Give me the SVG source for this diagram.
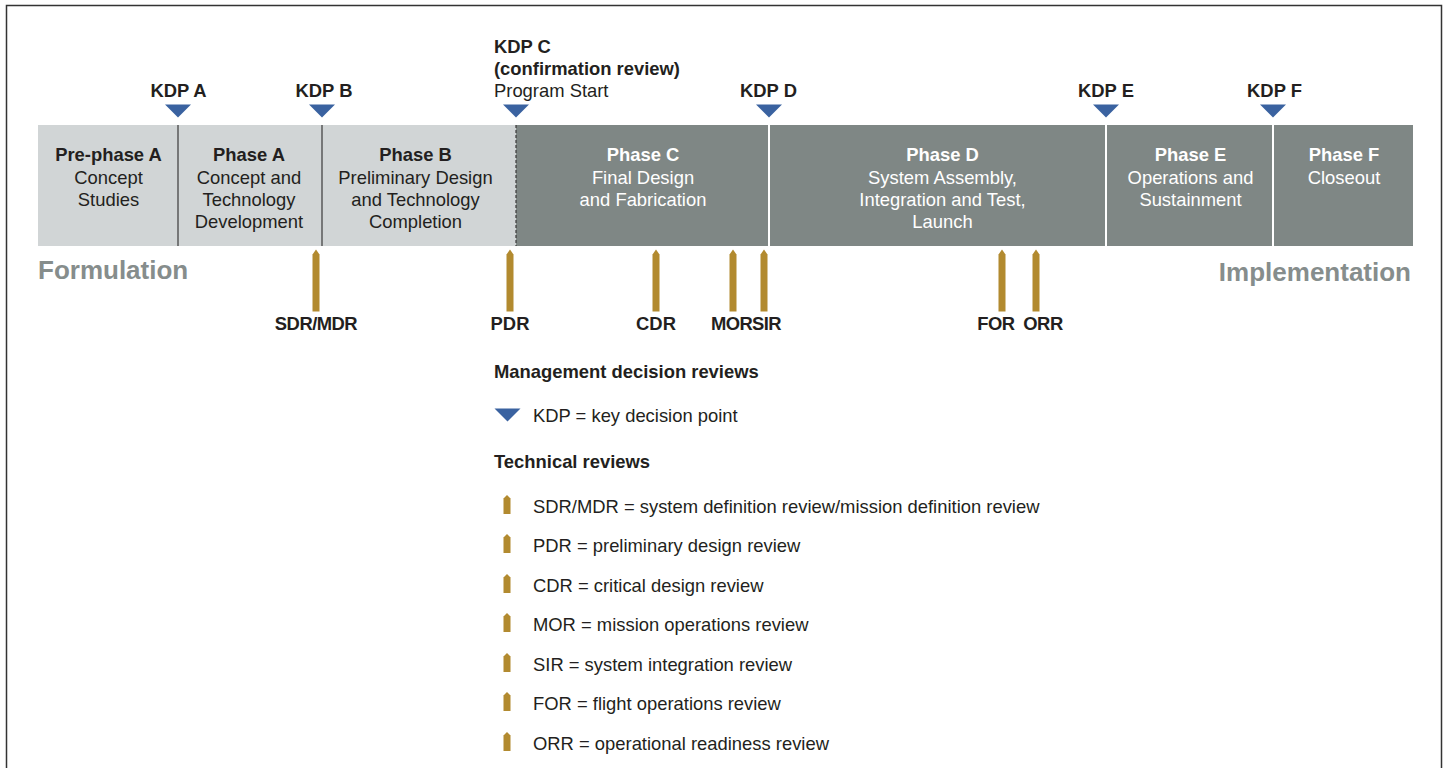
<svg xmlns="http://www.w3.org/2000/svg" width="1449" height="768" viewBox="0 0 1449 768">
  <style>
    text { font-family: "Liberation Sans", Arial, Helvetica, sans-serif; fill: #231f20; font-size: 18.4px; }
    .b { font-weight: bold; }
    .c { text-anchor: middle; }
    .w { fill: #ffffff; }
    .big { font-size: 26px; font-weight: bold; fill: #868d8c; }
    .light { fill: #d1d5d6; }
    .dark { fill: #7f8785; }
    .kdp { fill: #3a62a0; }
    .rev { fill: #b28a2f; }
  </style>
  <defs>
    <polygon id="kdp" class="kdp" points="-13,0 13,0 0,13"/>
    <polygon id="pencil" class="rev" points="-3.5,5 0,0 3.5,5 3.5,62 -3.5,62"/>
    <polygon id="pencil-s" class="rev" points="-3.5,3.5 0,0 3.5,3.5 3.5,19 -3.5,19"/>
  </defs>

  <rect width="1449" height="768" fill="#ffffff"/>
  <path d="M6.5,768 V5.5 H1441.5 V768" fill="none" stroke="#333333" stroke-width="1.5"/>

  <!-- phase bar -->
  <g id="phase-bar">
    <rect class="light" x="38" y="125" width="478" height="121"/>
    <rect class="dark" x="516" y="125" width="897" height="121"/>
    <line x1="178" y1="125" x2="178" y2="246" stroke="#3a3a3a" stroke-width="1.2"/>
    <line x1="322" y1="125" x2="322" y2="246" stroke="#3a3a3a" stroke-width="1.2"/>
    <line x1="516" y1="125" x2="516" y2="246" stroke="#3a3a3a" stroke-width="1.2" stroke-dasharray="3,2"/>
    <line x1="769" y1="125" x2="769" y2="246" stroke="#ffffff" stroke-width="2"/>
    <line x1="1106" y1="125" x2="1106" y2="246" stroke="#ffffff" stroke-width="2"/>
    <line x1="1273" y1="125" x2="1273" y2="246" stroke="#ffffff" stroke-width="2"/>
  </g>

  <g id="pre-phase-a">
    <text class="b c" x="108.5" y="161">Pre-phase A</text>
    <text class="c" x="108.5" y="184">Concept</text>
    <text class="c" x="108.5" y="206">Studies</text>
  </g>
  <g id="phase-a">
    <text class="b c" x="249" y="161">Phase A</text>
    <text class="c" x="249" y="184">Concept and</text>
    <text class="c" x="249" y="206">Technology</text>
    <text class="c" x="249" y="228">Development</text>
  </g>
  <g id="phase-b">
    <text class="b c" x="415.5" y="161">Phase B</text>
    <text class="c" x="415.5" y="184">Preliminary Design</text>
    <text class="c" x="415.5" y="206">and Technology</text>
    <text class="c" x="415.5" y="228">Completion</text>
  </g>
  <g id="phase-c">
    <text class="b c w" x="643" y="161">Phase C</text>
    <text class="c w" x="643" y="184">Final Design</text>
    <text class="c w" x="643" y="206">and Fabrication</text>
  </g>
  <g id="phase-d">
    <text class="b c w" x="942.5" y="161">Phase D</text>
    <text class="c w" x="942.5" y="184">System Assembly,</text>
    <text class="c w" x="942.5" y="206">Integration and Test,</text>
    <text class="c w" x="942.5" y="228">Launch</text>
  </g>
  <g id="phase-e">
    <text class="b c w" x="1190.5" y="161">Phase E</text>
    <text class="c w" x="1190.5" y="184">Operations and</text>
    <text class="c w" x="1190.5" y="206">Sustainment</text>
  </g>
  <g id="phase-f">
    <text class="b c w" x="1344" y="161">Phase F</text>
    <text class="c w" x="1344" y="184">Closeout</text>
  </g>

  <text class="big" x="38" y="279">Formulation</text>
  <text class="big" x="1411" y="281" text-anchor="end">Implementation</text>

  <!-- key decision points -->
  <g id="kdp-a">
    <text class="b c" x="178.5" y="97">KDP A</text>
    <use href="#kdp" x="178" y="104.5"/>
  </g>
  <g id="kdp-b">
    <text class="b c" x="324" y="97">KDP B</text>
    <use href="#kdp" x="322" y="104.5"/>
  </g>
  <g id="kdp-c">
    <text class="b" x="494" y="53">KDP C</text>
    <text class="b" x="494" y="75">(confirmation review)</text>
    <text x="494" y="97">Program Start</text>
    <use href="#kdp" x="516" y="104.5"/>
  </g>
  <g id="kdp-d">
    <text class="b c" x="768.5" y="97">KDP D</text>
    <use href="#kdp" x="769" y="104.5"/>
  </g>
  <g id="kdp-e">
    <text class="b c" x="1106" y="97">KDP E</text>
    <use href="#kdp" x="1106" y="104.5"/>
  </g>
  <g id="kdp-f">
    <text class="b c" x="1274.5" y="97">KDP F</text>
    <use href="#kdp" x="1273" y="104.5"/>
  </g>

  <!-- technical reviews -->
  <g id="reviews">
    <use href="#pencil" x="316" y="249.5"/>
    <use href="#pencil" x="510" y="249.5"/>
    <use href="#pencil" x="656" y="249.5"/>
    <use href="#pencil" x="733" y="249.5"/>
    <use href="#pencil" x="764" y="249.5"/>
    <use href="#pencil" x="1002" y="249.5"/>
    <use href="#pencil" x="1036" y="249.5"/>
    <text class="b c" x="316" y="330" letter-spacing="-0.5">SDR/MDR</text>
    <text class="b c" x="510" y="330">PDR</text>
    <text class="b c" x="656" y="330">CDR</text>
    <text class="b" x="711" y="330" letter-spacing="-0.6">MOR</text>
    <text class="b" x="752" y="330" letter-spacing="-0.6">SIR</text>
    <text class="b c" x="996" y="330" letter-spacing="-0.5">FOR</text>
    <text class="b c" x="1043" y="330" letter-spacing="-0.5">ORR</text>
  </g>

  <!-- legend -->
  <g id="legend">
    <text class="b" x="494" y="378">Management decision reviews</text>
    <use href="#kdp" x="507.5" y="408.5"/>
    <text x="533" y="421.5">KDP = key decision point</text>
    <text class="b" x="494" y="468">Technical reviews</text>

    <use href="#pencil-s" x="507" y="495"/>
    <text x="533" y="512.5">SDR/MDR = system definition review/mission definition review</text>
    <use href="#pencil-s" x="507" y="534"/>
    <text x="533" y="551.5">PDR = preliminary design review</text>
    <use href="#pencil-s" x="507" y="574"/>
    <text x="533" y="591.5">CDR = critical design review</text>
    <use href="#pencil-s" x="507" y="613"/>
    <text x="533" y="630.5">MOR = mission operations review</text>
    <use href="#pencil-s" x="507" y="653"/>
    <text x="533" y="670.5">SIR = system integration review</text>
    <use href="#pencil-s" x="507" y="692"/>
    <text x="533" y="709.5">FOR = flight operations review</text>
    <use href="#pencil-s" x="507" y="732"/>
    <text x="533" y="749.5">ORR = operational readiness review</text>
  </g>
</svg>
